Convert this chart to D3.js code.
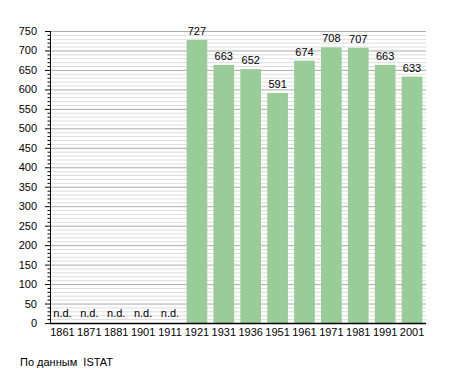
<!DOCTYPE html>
<html><head><meta charset="utf-8">
<script src="https://cdn.jsdelivr.net/npm/d3@7"></script>
<style>body{margin:0;background:#fff}text{font-family:"Liberation Sans",Arial,sans-serif}</style>
</head><body><svg id="c" width="455" height="373"></svg>
<script>
const years = ["1861","1871","1881","1901","1911","1921","1931","1936","1951","1961","1971","1981","1991","2001"];
const population = [null,null,null,null,null,727,663,652,591,674,708,707,663,633];
const yTicks = [0,50,100,150,200,250,300,350,400,450,500,550,600,650,700,750];
const source = "По данным  ISTAT";

const svg = d3.select("#c");
const x = d3.scaleBand().domain(years).range([49, 425.5]).paddingInner(0.23).paddingOuter(0.115);
const y = d3.scaleLinear().domain([0,750]).range([323,31]);
const minor = d3.range(0,751,10);

// grid
svg.append("g").selectAll("line").data(minor.filter(v=>v%50!==0)).join("line")
  .attr("x1",50).attr("x2",426).attr("y1",d=>y(d)+0.5).attr("y2",d=>y(d)+0.5)
  .attr("stroke","#dddddd").attr("stroke-width",1);
svg.append("g").selectAll("line").data(yTicks.filter(v=>v>0)).join("line")
  .attr("x1",50).attr("x2",426).attr("y1",d=>y(d)+0.5).attr("y2",d=>y(d)+0.5)
  .attr("stroke","#aaaaaa").attr("stroke-width",1);

// bars
const data = years.map((k,i)=>({k,v:population[i]}));
svg.append("g").selectAll("rect").data(data.filter(d=>d.v!=null)).join("rect")
  .attr("x",d=>x(d.k)).attr("width",x.bandwidth())
  .attr("y",d=>y(d.v)).attr("height",d=>y(0)-y(d.v))
  .attr("fill","#99cc99");

// value labels
svg.append("g").selectAll("text").data(data).join("text")
  .attr("x",d=>x(d.k)+x.bandwidth()/2)
  .attr("y",d=>d.v==null? y(0)-6 : y(d.v)-5)
  .attr("text-anchor","middle").attr("font-size",11).attr("fill","#000")
  .text(d=>d.v==null?"n.d.":d.v);

// y axis
const yAxis = svg.append("g");
yAxis.append("line").attr("x1",50.5).attr("x2",50.5).attr("y1",y(750)).attr("y2",y(0)).attr("stroke","#000");
yAxis.selectAll("line.mn").data(minor).join("line").attr("class","mn")
  .attr("x1",d=>d%50===0?45:47.5).attr("x2",50.5).attr("y1",d=>y(d)+0.5).attr("y2",d=>y(d)+0.5).attr("stroke","#000");
yAxis.selectAll("text").data(yTicks).join("text")
  .attr("x",37).attr("y",d=>y(d)+4).attr("text-anchor","end").attr("font-size",11).text(d=>d);

// x axis
svg.append("line").attr("x1",50).attr("x2",426).attr("y1",y(0)+0.5).attr("y2",y(0)+0.5).attr("stroke","#000").attr("stroke-width",1.5);
svg.append("g").selectAll("text").data(years).join("text")
  .attr("x",d=>x(d)+x.bandwidth()/2).attr("y",336).attr("text-anchor","middle").attr("font-size",11).text(d=>d);

svg.append("text").attr("x",20).attr("y",366).attr("font-size",11).style("white-space","pre").text(source);
</script></body></html>
